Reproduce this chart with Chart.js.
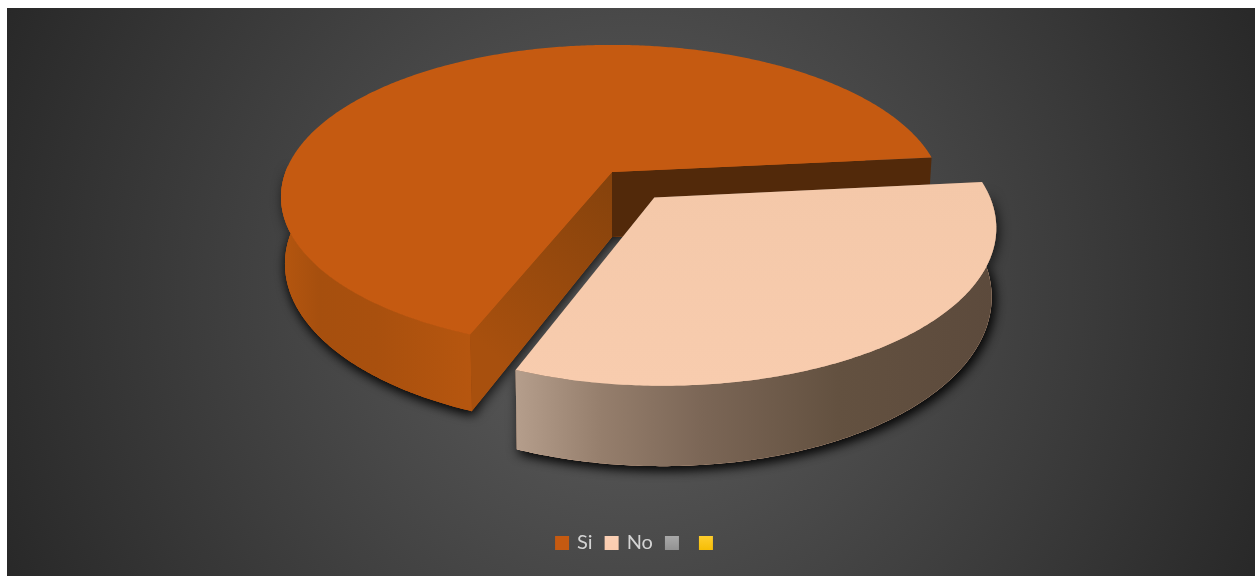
<!DOCTYPE html>
<html>
<head>
<meta charset="utf-8">
<title>Si / No</title>
<script src="https://cdn.jsdelivr.net/npm/chart.js"></script>
<style>
    html, body { margin: 0; padding: 0; background: #fff; width: 1255px; height: 576px; overflow: hidden; }
    .chart {
        position: absolute; left: 7px; top: 8px; width: 1248px; height: 568px;
        background: radial-gradient(circle 690px at 50% 50%, #5f5f5f 0%, #282828 100%);
    }
</style>
</head>
<body>
<div class="chart"><canvas id="pieChart" width="1248" height="568"></canvas></div>
<script>
// Categorias e valores (as duas últimas categorias estão vazias)
const labels = ['Si', 'No', '', ''];
const values = [67.4, 32.6, 0, 0];
const sliceColors = ['#c55a11', '#f6caac', '#a5a5a5', '#ffc000'];
const sliceOffsets = [0, 48, 0, 0];

// Gradiente dos quadrados da legenda
const legendStops = [['#c55a11', '#c55a11'], ['#fbd0b5', '#fbccae'], ['#acacac', '#8f8f8f'], ['#ffd033', '#f5bb00']];

// Gradiente da superfície superior de cada fatia
const topStops = [['#c55a11', '#c55a11'], ['#f4c8a9', '#f8ccae']];

// Cores das paredes laterais de cada fatia
const wallStops = [
    [[0, '#b5560f'], [0.2, '#a64f0e'], [0.5, '#a9500e'], [1, '#b6560f']],
    [[0, '#b59e8c'], [0.18, '#957e6c'], [0.39, '#7b6656'], [0.67, '#635140'], [1, '#5c4a3c']]
];
// Faces do corte: início e fim de cada fatia, do centro para a borda
const cutColors = [
    [['#85420c', '#a8500e'], ['#52290a', '#52290a']],
    [['#6b5647', '#6b5647'], ['#6b5647', '#6b5647']]
];

// Projeção do plano da pizza para a tela
const view = { x: 605, y: 164, scaleX: 326.5, scaleY: 148, depth: 65, persp: 0.1645, shrink: 0.012 };

function project(u, v, z) {
    const w = 1 - view.persp * v;
    const f = 1 - view.shrink * z;
    return [view.x + f * view.scaleX * u / w, view.y + (view.scaleY * v + view.depth * z) / w];
}

function sweep(start, end) {
    const angles = [];
    const steps = Math.max(2, Math.ceil((end - start) / 0.01));
    for (let i = 0; i <= steps; i++) angles.push(start + (end - start) * i / steps);
    return angles;
}

function tracePolygon(ctx, pts) {
    ctx.beginPath();
    pts.forEach((p, i) => (i ? ctx.lineTo(p[0], p[1]) : ctx.moveTo(p[0], p[1])));
    ctx.closePath();
}

function drawSlice(ctx, arc, index) {
    const { startAngle, endAngle, outerRadius } = arc.getProps(['startAngle', 'endAngle', 'outerRadius'], true);
    if (endAngle - startAngle <= 0) return;

    const mid = (startAngle + endAngle) / 2;
    const d = (arc.options.offset || 0) / outerRadius;
    const cu = Math.cos(mid) * d;
    const cv = Math.sin(mid) * d;
    const rim = (a, z) => project(cu + Math.cos(a), cv + Math.sin(a), z);

    const angles = sweep(startAngle, endAngle);
    const top = angles.map(a => rim(a, 0));
    const bottom = angles.map(a => rim(a, 1));
    const apexTop = project(cu, cv, 0);
    const apexBottom = project(cu, cv, 1);

    // Só a parte da borda voltada para quem olha tem parede visível
    const front = angles.filter(a => Math.sin(a) > -0.05);
    const wall = front.map(a => rim(a, 0)).concat(front.map(a => rim(a, 1)).reverse());

    // Sombra projetada pela base e pela parede
    ctx.save();
    ctx.shadowColor = 'rgba(0, 0, 0, 0.75)';
    ctx.shadowBlur = 12;
    ctx.shadowOffsetX = 2;
    ctx.shadowOffsetY = 3;
    ctx.fillStyle = arc.options.backgroundColor;
    tracePolygon(ctx, [apexBottom].concat(bottom));
    ctx.fill();
    tracePolygon(ctx, wall);
    ctx.fill();
    ctx.restore();

    // Faces do corte
    [[top[0], bottom[0]], [top[top.length - 1], bottom[bottom.length - 1]]].forEach((edge, i) => {
        const g = ctx.createLinearGradient(apexTop[0], apexTop[1], edge[0][0], edge[0][1]);
        g.addColorStop(0, cutColors[index][i][0]);
        g.addColorStop(1, cutColors[index][i][1]);
        ctx.fillStyle = g;
        tracePolygon(ctx, [apexTop, edge[0], edge[1], apexBottom]);
        ctx.fill();
    });

    // Parede externa com gradiente horizontal
    const xs = wall.map(p => p[0]);
    const wallGradient = ctx.createLinearGradient(Math.min(...xs), 0, Math.max(...xs), 0);
    wallStops[index].forEach(s => wallGradient.addColorStop(s[0], s[1]));
    ctx.fillStyle = wallGradient;
    tracePolygon(ctx, wall);
    ctx.fill();

    // Superfície superior
    const ys = top.map(p => p[1]);
    const topGradient = ctx.createLinearGradient(0, Math.min(...ys), 0, Math.max(...ys));
    topGradient.addColorStop(0, topStops[index][0]);
    topGradient.addColorStop(1, topStops[index][1]);
    ctx.fillStyle = topGradient;
    tracePolygon(ctx, [apexTop].concat(top));
    ctx.fill();
}

// Substitui o desenho padrão dos arcos pela versão em 3D
const pie3d = {
    id: 'pie3d',
    beforeDatasetsDraw(chart) {
        const ctx = chart.ctx;
        ctx.save();
        chart.getDatasetMeta(0).data.forEach((arc, i) => drawSlice(ctx, arc, i));
        ctx.restore();
        return false;
    }
};

// Itens da legenda com o gradiente de cada quadrado
function legendItems(chart) {
    const items = Chart.overrides.pie.plugins.legend.labels.generateLabels(chart);
    return items.map((item, i) => {
        const g = chart.ctx.createLinearGradient(0, 526, 0, 544);
        g.addColorStop(0, legendStops[i][0]);
        g.addColorStop(1, legendStops[i][1]);
        item.fillStyle = g;
        item.strokeStyle = g;
        return item;
    });
}

new Chart(document.getElementById('pieChart'), {
    type: 'pie',
    data: {
        labels: labels,
        datasets: [{
            data: values,
            backgroundColor: sliceColors,
            borderWidth: 4,
            borderColor: sliceColors,
            offset: sliceOffsets
        }]
    },
    options: {
        responsive: false,
        animation: false,
        rotation: 201.6,
        layout: { padding: { left: 16, bottom: 13 } },
        plugins: {
            tooltip: { enabled: false },
            legend: {
                position: 'bottom',
                labels: {
                    color: '#d4d4d4',
                    font: { family: 'Lato', size: 20 },
                    boxWidth: 10,
                    boxHeight: 10,
                    padding: 14,
                    generateLabels: legendItems
                }
            }
        }
    },
    plugins: [pie3d]
});
</script>
</body>
</html>
